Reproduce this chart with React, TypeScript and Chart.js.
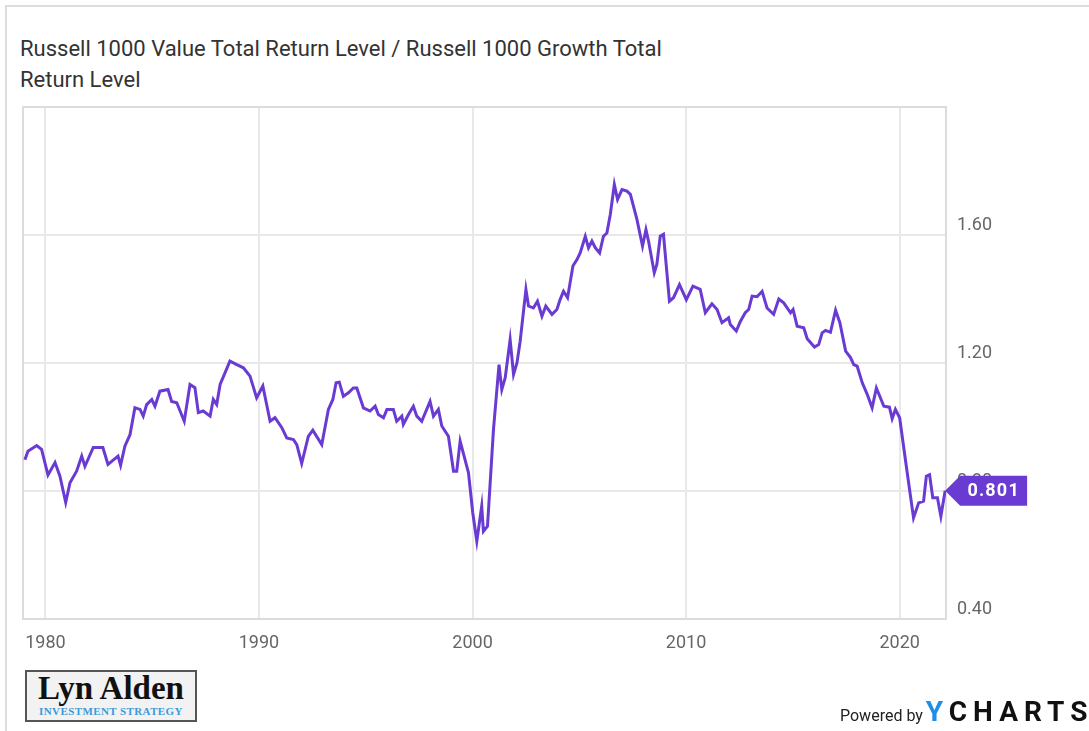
import React, { useEffect, useRef } from "react";
import { Chart, registerables } from "chart.js";

Chart.register(...registerables);

const TITLE_LINE1 = "Russell 1000 Value Total Return Level / Russell 1000 Growth Total";
const TITLE_LINE2 = "Return Level";

const years: number[] = [
  1979.04, 1979.18, 1979.59, 1979.82, 1980.12, 1980.45, 1980.68, 1980.95, 1981.15, 1981.46,
  1981.70, 1981.85, 1982.24, 1982.69, 1982.93, 1983.40, 1983.52, 1983.72, 1983.96, 1984.19,
  1984.43, 1984.58, 1984.74, 1984.98, 1985.13, 1985.36, 1985.74, 1985.91, 1986.15, 1986.50,
  1986.77, 1987.00, 1987.16, 1987.39, 1987.71, 1987.86, 1988.02, 1988.18, 1988.64, 1988.96,
  1989.27, 1989.58, 1989.89, 1990.18, 1990.52, 1990.75, 1991.07, 1991.30, 1991.61, 1991.77,
  1992.00, 1992.31, 1992.52, 1992.94, 1993.25, 1993.46, 1993.61, 1993.76, 1993.95, 1994.19,
  1994.42, 1994.58, 1994.89, 1995.20, 1995.44, 1995.59, 1995.83, 1995.99, 1996.29, 1996.45,
  1996.69, 1996.76, 1997.00, 1997.23, 1997.39, 1997.62, 1998.01, 1998.17, 1998.40, 1998.56,
  1998.87, 1999.11, 1999.26, 1999.42, 1999.81, 2000.01, 2000.20, 2000.43, 2000.51, 2000.70,
  2000.98, 2001.24, 2001.37, 2001.53, 2001.76, 2001.92, 2002.08, 2002.23, 2002.50, 2002.62,
  2002.85, 2003.04, 2003.25, 2003.43, 2003.72, 2003.95, 2004.10, 2004.26, 2004.45, 2004.70,
  2004.89, 2005.04, 2005.28, 2005.43, 2005.59, 2005.75, 2005.95, 2006.13, 2006.29, 2006.45,
  2006.64, 2006.79, 2007.00, 2007.23, 2007.39, 2007.70, 2007.96, 2008.12, 2008.24, 2008.51,
  2008.63, 2008.79, 2008.94, 2009.22, 2009.41, 2009.69, 2010.01, 2010.32, 2010.66, 2010.90,
  2011.21, 2011.45, 2011.68, 2011.99, 2012.07, 2012.35, 2012.54, 2012.77, 2012.93, 2013.09,
  2013.32, 2013.56, 2013.79, 2014.10, 2014.34, 2014.57, 2014.89, 2015.01, 2015.20, 2015.51,
  2015.67, 2016.01, 2016.21, 2016.37, 2016.53, 2016.76, 2017.00, 2017.20, 2017.47, 2017.70,
  2017.85, 2018.01, 2018.25, 2018.48, 2018.71, 2018.91, 2019.26, 2019.52, 2019.65, 2019.80,
  2020.00, 2020.31, 2020.65, 2020.89, 2021.12, 2021.25, 2021.40, 2021.55, 2021.77, 2021.93,
  2022.13,
];

const ratio: number[] = [
  0.898, 0.924, 0.942, 0.930, 0.850, 0.889, 0.846, 0.764, 0.826, 0.862,
  0.909, 0.877, 0.936, 0.936, 0.883, 0.909, 0.880, 0.940, 0.976, 1.060,
  1.055, 1.034, 1.070, 1.086, 1.065, 1.112, 1.117, 1.080, 1.076, 1.018,
  1.133, 1.123, 1.045, 1.050, 1.034, 1.086, 1.070, 1.133, 1.206, 1.195,
  1.185, 1.159, 1.091, 1.128, 1.018, 1.029, 0.998, 0.966, 0.961, 0.945,
  0.886, 0.971, 0.990, 0.945, 1.055, 1.086, 1.138, 1.140, 1.096, 1.107,
  1.122, 1.122, 1.060, 1.050, 1.065, 1.039, 1.029, 1.055, 1.055, 1.018,
  1.034, 1.008, 1.039, 1.065, 1.034, 1.018, 1.080, 1.034, 1.055, 1.003,
  0.971, 0.862, 0.862, 0.956, 0.857, 0.732, 0.643, 0.753, 0.674, 0.690,
  0.992, 1.195, 1.117, 1.154, 1.273, 1.164, 1.200, 1.268, 1.430, 1.378,
  1.372, 1.393, 1.346, 1.378, 1.352, 1.367, 1.398, 1.424, 1.404, 1.503,
  1.523, 1.544, 1.596, 1.560, 1.581, 1.560, 1.544, 1.596, 1.606, 1.664,
  1.758, 1.711, 1.742, 1.737, 1.727, 1.648, 1.565, 1.617, 1.581, 1.482,
  1.508, 1.596, 1.602, 1.393, 1.404, 1.445, 1.398, 1.440, 1.430, 1.357,
  1.385, 1.367, 1.326, 1.341, 1.320, 1.300, 1.330, 1.357, 1.367, 1.409,
  1.407, 1.424, 1.372, 1.352, 1.400, 1.388, 1.357, 1.367, 1.315, 1.310,
  1.276, 1.250, 1.258, 1.294, 1.302, 1.296, 1.365, 1.326, 1.237, 1.217,
  1.195, 1.190, 1.138, 1.102, 1.060, 1.122, 1.065, 1.062, 1.026, 1.055,
  1.029, 0.878, 0.716, 0.763, 0.768, 0.846, 0.851, 0.779, 0.779, 0.721,
  0.801,
];

const xTickValues: number[] = [1980, 1990, 2000, 2010, 2020];
const yTickValues: number[] = [0.4, 0.8, 1.2, 1.6, 2.0];
const X_MIN = 1978.95;
const X_MAX = 2022.17;
const Y_MIN = 0.4;
const Y_MAX = 2.0;
const LAST_LABEL = "0.801";

const LINE_COLOR = "#6a3bd2";

export default function App() {
  const canvasRef = useRef<HTMLCanvasElement | null>(null);

  useEffect(() => {
    const canvas = canvasRef.current;
    if (!canvas) return;

    const framePlugin = {
      id: "frame",
      beforeDatasetsDraw(chart: any) {
        const { ctx, chartArea } = chart;
        ctx.save();
        ctx.strokeStyle = "#dcdcdc";
        ctx.lineWidth = 2;
        ctx.strokeRect(chartArea.left, chartArea.top, chartArea.right - chartArea.left, chartArea.bottom - chartArea.top);
        ctx.restore();
      },
    };

    const badgePlugin = {
      id: "badge",
      afterDraw(chart: any) {
        const { ctx } = chart;
        const xs = chart.scales.x.getPixelForValue(years[years.length - 1]);
        const ys = chart.scales.y.getPixelForValue(ratio[ratio.length - 1]);
        const arrow = 15;
        const w = 67;
        const h = 30;
        ctx.save();
        ctx.fillStyle = LINE_COLOR;
        ctx.beginPath();
        ctx.moveTo(xs, ys);
        ctx.lineTo(xs + arrow, ys - h / 2);
        ctx.lineTo(xs + arrow + w, ys - h / 2);
        ctx.lineTo(xs + arrow + w, ys + h / 2);
        ctx.lineTo(xs + arrow, ys + h / 2);
        ctx.closePath();
        ctx.fill();
        ctx.fillStyle = "#ffffff";
        ctx.font = "bold 18px Roboto";
        (ctx as any).letterSpacing = "1.2px";
        ctx.textAlign = "center";
        ctx.textBaseline = "middle";
        ctx.fillText(LAST_LABEL, xs + arrow + w / 2, ys + 1);
        ctx.restore();
      },
    };

    const chart = new Chart(canvas, {
      type: "line",
      data: {
        datasets: [
          {
            label: "Ratio",
            data: years.map((x, i) => ({ x, y: ratio[i] })),
            borderColor: LINE_COLOR,
            borderWidth: 3,
            pointRadius: 0,
            tension: 0,
            fill: false,
          },
        ],
      },
      options: {
        animation: false,
        responsive: false,
        maintainAspectRatio: false,
        layout: { padding: { left: 23, top: 107, right: 0, bottom: 72 } },
        plugins: { legend: { display: false }, tooltip: { enabled: false } },
        scales: {
          x: {
            type: "linear",
            position: "bottom",
            min: X_MIN,
            max: X_MAX,
            grid: { color: "#e8e8e8", lineWidth: 2, drawTicks: false },
            border: { display: false },
            afterBuildTicks: (scale: any) => {
              scale.ticks = xTickValues.map((v) => ({ value: v }));
            },
            afterFit: (scale: any) => {
              scale.height = 40;
            },
            ticks: {
              font: { family: "Roboto", size: 18 },
              color: "#666666",
              padding: 14,
              maxRotation: 0,
              autoSkip: false,
              callback: (v: any) => String(v),
            },
          },
          y: {
            type: "linear",
            position: "right",
            min: Y_MIN,
            max: Y_MAX,
            grid: { color: "#e8e8e8", lineWidth: 2, drawTicks: false },
            border: { display: false },
            afterBuildTicks: (scale: any) => {
              scale.ticks = yTickValues.map((v) => ({ value: v }));
            },
            afterFit: (scale: any) => {
              scale.width = 143;
            },
            ticks: {
              font: { family: "Roboto", size: 18 },
              color: "#666666",
              padding: 11,
              labelOffset: -10,
              callback: (v: any) => (Number(v) >= 1.99 ? "" : Number(v).toFixed(2)),
            },
          },
        },
      },
      plugins: [framePlugin, badgePlugin],
    } as any);

    return () => chart.destroy();
  }, []);

  return (
    <div style={{ position: "fixed", left: 0, top: 0, width: 1089, height: 731, background: "#fff", overflow: "hidden" }}>
      <div
        style={{
          position: "absolute",
          left: 5,
          top: 5,
          width: 1200,
          height: 800,
          borderLeft: "2px solid #dddddd",
          borderTop: "2px solid #dddddd",
        }}
      />
      <div
        style={{
          position: "absolute",
          left: 20,
          top: 33,
          fontFamily: "Roboto",
          fontSize: 22,
          lineHeight: "31px",
          color: "#333333",
          whiteSpace: "nowrap",
        }}
      >
        <div>{TITLE_LINE1}</div>
        <div>{TITLE_LINE2}</div>
      </div>
      <canvas ref={canvasRef} width={1089} height={731} style={{ position: "absolute", left: 0, top: 0, width: 1089, height: 731 }} />
      <div
        style={{
          position: "absolute",
          left: 25,
          top: 670,
          width: 168,
          height: 48,
          border: "2px solid #555555",
          background: "#f2f2f2",
          textAlign: "center",
        }}
      >
        <div style={{ fontFamily: "Liberation Serif", fontWeight: "bold", fontSize: 33, lineHeight: "33px", color: "#111", marginTop: 0 }}>
          Lyn Alden
        </div>
        <div style={{ fontFamily: "Liberation Serif", fontWeight: "bold", fontSize: 11, lineHeight: "12px", color: "#3a9ad9", letterSpacing: 0.4 }}>
          INVESTMENT STRATEGY
        </div>
      </div>
      <div style={{ position: "absolute", left: 840, top: 695, whiteSpace: "nowrap", display: "flex", alignItems: "baseline" }}>
        <span style={{ fontFamily: "Roboto", fontSize: 16, color: "#222", marginRight: 3 }}>Powered by</span>
        <span style={{ fontFamily: "Roboto", fontWeight: "bold", fontSize: 28, letterSpacing: 6, color: "#111" }}>
          <span style={{ color: "#1f8ee6" }}>Y</span>CHARTS
        </span>
      </div>
    </div>
  );
}
